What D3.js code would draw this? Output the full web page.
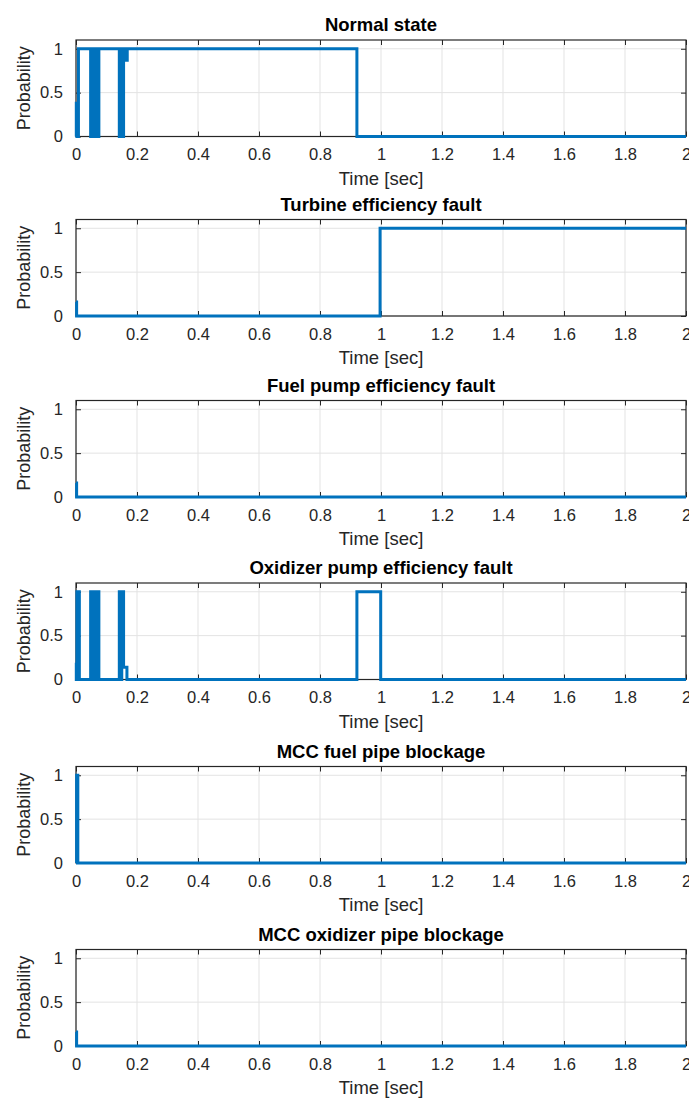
<!DOCTYPE html>
<html>
<head>
<meta charset="utf-8">
<script src="https://cdn.jsdelivr.net/npm/d3@7"></script>
<style>
  body { margin: 0; background: #fff; }
  text { font-family: "Liberation Sans", Arial, sans-serif; }
</style>
</head>
<body>
<script>
var svgWidth = 689;
var svgHeight = 1100;

// tick labels
var timeTicks = [0, 0.2, 0.4, 0.6, 0.8, 1, 1.2, 1.4, 1.6, 1.8, 2];
var timeLabels = ["0", "0.2", "0.4", "0.6", "0.8", "1", "1.2", "1.4", "1.6", "1.8", "2"];
var probTicks = [0, 0.5, 1];
var probLabels = ["0", "0.5", "1"];

var titles = [
    "Normal state",
    "Turbine efficiency fault",
    "Fuel pump efficiency fault",
    "Oxidizer pump efficiency fault",
    "MCC fuel pipe blockage",
    "MCC oxidizer pipe blockage"
];

// step data (value holds from its time until the next time)
var normalTime = [0, 0.001, 0.003, 0.008, 0.048, 0.051, 0.053, 0.056, 0.058, 0.062, 0.064, 0.066, 0.068, 0.070, 0.072, 0.075, 0.142, 0.149, 0.150, 0.156, 0.159, 0.168, 0.921, 2];
var normalProb = [0, 0.38, 0, 1, 0, 1, 0, 1, 0, 1, 0, 1, 0, 1, 0, 1, 0, 1, 0, 1, 0.87, 1, 0, 0];

var turbineTime = [0, 0.002, 0.997, 2];
var turbineProb = [0.16, 0, 1, 1];

var fuelPumpTime = [0, 0.002, 2];
var fuelPumpProb = [0.16, 0, 0];

var oxPumpTime = [0, 0.001, 0.003, 0.011, 0.048, 0.051, 0.053, 0.056, 0.058, 0.062, 0.064, 0.066, 0.068, 0.070, 0.072, 0.075, 0.142, 0.149, 0.150, 0.156, 0.167, 0.921, 0.999, 2];
var oxPumpProb = [0.19, 0, 1, 0, 1, 0, 1, 0, 1, 0, 1, 0, 1, 0, 1, 0, 1, 0, 1, 0.14, 0, 1, 0, 0];

var fuelPipeTime = [0, 0.002, 0.006, 2];
var fuelPipeProb = [0, 1, 0, 0];

var oxPipeTime = [0, 0.002, 2];
var oxPipeProb = [0.16, 0, 0];

var seriesTimes = [normalTime, turbineTime, fuelPumpTime, oxPumpTime, fuelPipeTime, oxPipeTime];
var seriesProbs = [normalProb, turbineProb, fuelPumpProb, oxPumpProb, fuelPipeProb, oxPipeProb];

// layout of each subplot (bottom edge in px)
var plotLeft = 76, plotRight = 686, plotHeight = 96.5;
var plotBottoms = [136.5, 316, 497, 679.5, 863, 1046];

var svg = d3.select("body").append("svg")
    .attr("width", svgWidth)
    .attr("height", svgHeight);

var x = d3.scaleLinear().domain([0, 2]).range([plotLeft, plotRight]);

var axisColor = "#262626";

titles.forEach(function(title, i) {
    var bottom = plotBottoms[i];
    var top = bottom - plotHeight;
    var y = d3.scaleLinear().domain([0, 1.1]).range([bottom, top]);

    var g = svg.append("g");

    // grid
    g.append("g").selectAll("line.vgrid")
        .data(timeTicks)
        .join("line")
        .attr("x1", d => x(d)).attr("x2", d => x(d))
        .attr("y1", top).attr("y2", bottom)
        .attr("stroke", "#e3e3e3").attr("stroke-width", 1);
    g.append("g").selectAll("line.hgrid")
        .data(probTicks)
        .join("line")
        .attr("x1", plotLeft).attr("x2", plotRight)
        .attr("y1", d => y(d)).attr("y2", d => y(d))
        .attr("stroke", "#e3e3e3").attr("stroke-width", 1);

    // axes, ticks inside
    var xb = g.append("g").attr("transform", `translate(0,${bottom})`)
        .call(d3.axisBottom(x).tickValues(timeTicks).tickSize(-5).tickPadding(12)
            .tickFormat((d, k) => timeLabels[k]));
    var xt = g.append("g").attr("transform", `translate(0,${top})`)
        .call(d3.axisTop(x).tickValues(timeTicks).tickSize(-5).tickFormat(""));
    var yl = g.append("g").attr("transform", `translate(${plotLeft},0)`)
        .call(d3.axisLeft(y).tickValues(probTicks).tickSize(-5).tickPadding(13)
            .tickFormat((d, k) => probLabels[k]));
    var yr = g.append("g").attr("transform", `translate(${plotRight},0)`)
        .call(d3.axisRight(y).tickValues(probTicks).tickSize(-5).tickFormat(""));

    [xb, xt, yl, yr].forEach(function(a) {
        a.select(".domain").remove();
        a.selectAll(".tick line").attr("stroke", axisColor);
        a.selectAll("text").attr("fill", axisColor)
            .style("font-size", "16.5px")
            .style("font-family", "'Liberation Sans', Arial, sans-serif");
    });

    // box
    g.append("rect")
        .attr("x", plotLeft).attr("y", top)
        .attr("width", plotRight - plotLeft).attr("height", plotHeight)
        .attr("fill", "none").attr("stroke", axisColor).attr("stroke-width", 1.2);

    // line
    var pts = seriesTimes[i].map((t, k) => [t, seriesProbs[i][k]]);
    var line = d3.line()
        .x(d => x(d[0]))
        .y(d => y(d[1]))
        .curve(d3.curveStepAfter);
    g.append("path")
        .datum(pts)
        .attr("d", line)
        .attr("fill", "none")
        .attr("stroke", "#0072BD")
        .attr("stroke-width", 3)
        .attr("stroke-linejoin", "miter");

    // title
    g.append("text")
        .attr("x", (plotLeft + plotRight) / 2)
        .attr("y", top - 9)
        .attr("text-anchor", "middle")
        .attr("fill", "#000")
        .style("font-size", "18.5px")
        .style("font-weight", "bold")
        .text(title);

    // x label
    g.append("text")
        .attr("x", (plotLeft + plotRight) / 2)
        .attr("y", bottom + 48)
        .attr("text-anchor", "middle")
        .attr("fill", axisColor)
        .style("font-size", "18.5px")
        .text("Time [sec]");

    // y label
    g.append("text")
        .attr("transform", `translate(30,${(top + bottom) / 2}) rotate(-90)`)
        .attr("text-anchor", "middle")
        .attr("fill", axisColor)
        .style("font-size", "18px")
        .text("Probability");
});
</script>
</body>
</html>
